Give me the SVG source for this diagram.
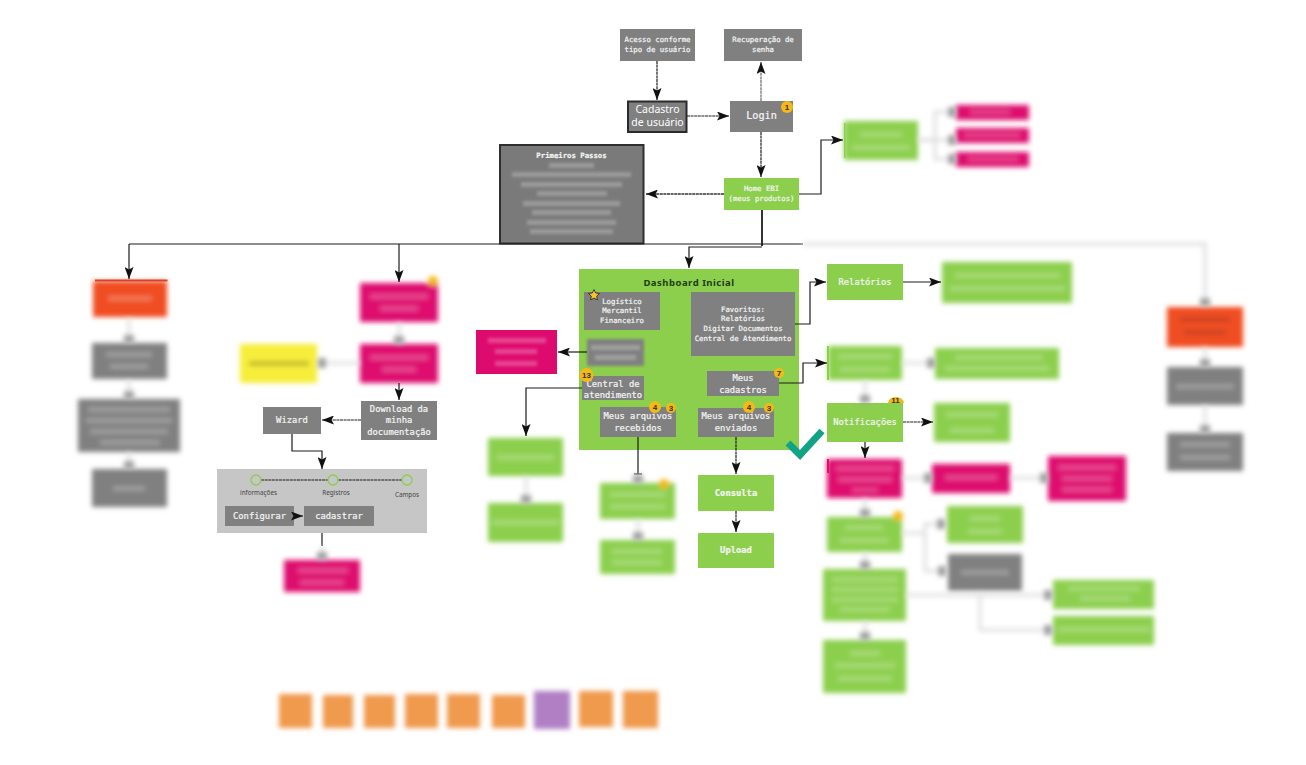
<svg xmlns="http://www.w3.org/2000/svg" width="1306" height="765" viewBox="0 0 1306 765">
<style>
.bg{fill:#fff}
.gr{fill:#808080}.gn{fill:#8ccf4d}.pk{fill:#de0b6e}.rd{fill:#f04e23}.ye{fill:#f7ee3b}.or{fill:#f09a4d}.pu{fill:#b07fc4}.pn{fill:#c6c6c6}
.tb{fill:#fff;opacity:.24}
.m{font-family:"DejaVu Sans Mono","Liberation Mono",monospace;fill:#f4f4f4;text-anchor:middle;stroke:#f4f4f4;stroke-width:.22}
.s7{font-size:7.3px}.s9{font-size:8.8px}.s10{font-size:10.2px}
.n{font-family:"Noto Sans","Open Sans",sans-serif;text-anchor:middle}
.lb{font-size:6.3px;fill:#444}
.bd{fill:#f4b916}
.bt{font-family:"Liberation Sans",sans-serif;font-weight:700;font-size:8px;fill:#333;text-anchor:middle}
.c{fill:none;stroke:#1c1c1c;stroke-width:1.2}
.d{stroke-dasharray:3 .6}
.a{marker-end:url(#ah)}
.fc{fill:none;stroke:#dedede;stroke-width:3;marker-end:url(#ga)}
.bl{filter:url(#b)}
.bs{filter:url(#bs)}
</style>
<defs>
<filter id="b" filterUnits="userSpaceOnUse" x="0" y="0" width="1306" height="765"><feGaussianBlur stdDeviation="2.5"/></filter>
<filter id="bs" filterUnits="userSpaceOnUse" x="0" y="0" width="1306" height="765"><feGaussianBlur stdDeviation="1.6"/></filter>
<marker id="ah" markerUnits="userSpaceOnUse" markerWidth="13" markerHeight="9" refX="12" refY="4.500" orient="auto"><path d="M0,0 L12,4.500 L0,9 L2.500,4.500z" fill="#111"/></marker>
<marker id="ga" markerUnits="userSpaceOnUse" markerWidth="10" markerHeight="12" refX="8" refY="6" orient="auto"><rect x="0" y="1" width="8" height="10" fill="#a0a0a0"/></marker>
</defs>
<rect class="bg" width="1306" height="765"/>

<g id="n-acesso"><rect class="gr" x="620" y="29" width="75" height="32"/><text class="m s7" x="657.500" y="42">Acesso conforme</text><text class="m s7" x="657.500" y="52">tipo de usuário</text></g>
<g id="n-recuperacao"><rect class="gr" x="724" y="29" width="78" height="32"/><text class="m s7" x="763" y="42">Recuperação de</text><text class="m s7" x="763" y="52">senha</text></g>
<g id="n-cadastro"><rect class="gr" x="628" y="101.500" width="58.500" height="30.500" stroke="#2b2b2b" stroke-width="2"/><text class="n" x="657.500" y="112.500" font-size="10.500" fill="#fff">Cadastro</text><text class="n" x="657.500" y="126" font-size="10.500" fill="#fff">de usuário</text></g>
<g id="n-login"><rect class="gr" x="730" y="101" width="63" height="31"/><text class="m s10" x="761.500" y="119">Login</text><circle class="bd" cx="787" cy="107" r="6"/><text class="bt" x="787" y="110">1</text></g>
<g id="n-primeiros"><rect x="500" y="145" width="143.500" height="98.500" fill="#7a7a7a" stroke="#2f2f2f" stroke-width="2"/><text class="m s7" x="571.500" y="158" font-weight="700">Primeiros Passos</text>
<g class="bs"><rect class="tb" x="549" y="163" width="45" height="5"/><rect class="tb" x="512" y="172" width="119" height="5"/><rect class="tb" x="521" y="182" width="101" height="5"/><rect class="tb" x="537" y="191" width="70" height="5"/><rect class="tb" x="523" y="201" width="97" height="5"/><rect class="tb" x="532" y="210" width="79" height="5"/><rect class="tb" x="527" y="220" width="89" height="5"/><rect class="tb" x="530" y="229" width="83" height="5"/></g></g>
<g id="n-home"><rect class="gn" x="724" y="178" width="75" height="32"/><text class="m s7" x="761.500" y="191">Home EBI</text><text class="m s7" x="761.500" y="201">(meus produtos)</text></g>

<g id="n-conta"><rect class="gn" x="844" y="123" width="1.500" height="35"/><g class="bl"><rect class="gn" x="844" y="121" width="74" height="39"/><rect class="tb" x="860" y="132" width="42" height="5"/><rect class="tb" x="852" y="145" width="58" height="5"/></g></g>
<g id="n-rosa1" class="bl"><rect class="pk" x="956" y="105" width="73" height="15"/><rect class="tb" x="970" y="110" width="40" height="4"/></g>
<g id="n-rosa2" class="bl"><rect class="pk" x="956" y="128" width="73" height="15"/><rect class="tb" x="964" y="133" width="56" height="4"/></g>
<g id="n-rosa3" class="bl"><rect class="pk" x="956" y="152" width="73" height="15"/><rect class="tb" x="968" y="157" width="50" height="4"/></g>

<g id="n-dashboard"><rect class="gn" x="579" y="269" width="220" height="181"/><text class="n" x="689" y="286" font-size="9.500" font-weight="700" letter-spacing=".5" fill="#1f3d10">Dashboard Inicial</text></g>
<g id="n-logistico"><rect class="gr" x="584" y="292" width="76" height="38"/><text class="m s7" x="622" y="304">Logístico</text><text class="m s7" x="622" y="313">Mercantil</text><text class="m s7" x="622" y="323">Financeiro</text><path d="M594,289.500 L595.700,293 L599.500,293.500 L596.700,296.100 L597.400,299.900 L594,298.100 L590.600,299.900 L591.300,296.100 L588.500,293.500 L592.300,293z" fill="#f6c52c" stroke="#222" stroke-width=".8"/></g>
<g id="n-favoritos"><rect class="gr" x="691" y="292" width="104" height="64"/><text class="m s7" x="743" y="312">Favoritos:</text><text class="m s7" x="743" y="321">Relatórios</text><text class="m s7" x="743" y="331">Digitar Documentos</text><text class="m s7" x="743" y="341">Central de Atendimento</text></g>
<g id="n-acionar"><rect class="pk" x="476" y="330" width="81" height="44"/><g class="bs"><rect class="tb" x="488" y="338" width="58" height="5"/><rect class="tb" x="495" y="349" width="42" height="5"/><rect class="tb" x="495" y="361" width="42" height="5"/></g></g>
<g id="n-emissao" class="bs"><rect class="gr" x="587" y="339" width="57" height="27"/><rect class="tb" x="591" y="345" width="49" height="5"/><rect class="tb" x="595" y="355" width="41" height="5"/></g>
<g id="n-central"><rect class="gr" x="582" y="376" width="62" height="24"/><text class="m s9" x="613" y="386.500">Central de</text><text class="m s9" x="613" y="397.500">atendimento</text><circle class="bd" cx="586.500" cy="375" r="7"/><text class="bt" x="586.500" y="378">13</text></g>
<g id="n-cadastros"><rect class="gr" x="707" y="371" width="72" height="25"/><text class="m s9" x="743" y="381">Meus</text><text class="m s9" x="743" y="393">cadastros</text><circle class="bd" cx="779" cy="373" r="5"/><text class="bt" x="779" y="376">7</text></g>
<g id="n-recebidos"><rect class="gr" x="600" y="407" width="76" height="30"/><text class="m s9" x="638" y="419">Meus arquivos</text><text class="m s9" x="638" y="430.500">recebidos</text><circle class="bd" cx="655" cy="407" r="6"/><text class="bt" x="655" y="410">4</text><circle class="bd" cx="671" cy="408" r="5"/><text class="bt" x="671" y="411">3</text></g>
<g id="n-enviados"><rect class="gr" x="698" y="408" width="76" height="29"/><text class="m s9" x="736" y="419">Meus arquivos</text><text class="m s9" x="736" y="431">enviados</text><circle class="bd" cx="749" cy="407" r="6"/><text class="bt" x="749" y="410">4</text><circle class="bd" cx="769" cy="408" r="5"/><text class="bt" x="769" y="411">3</text></g>
<path id="check" d="M788,443 L800,455 L822,431" fill="none" stroke="#12a386" stroke-width="7"/>

<g id="n-relatorios"><rect class="gn" x="827" y="264" width="76" height="36"/><text class="m s9" x="865" y="285">Relatórios</text></g>
<g id="n-rel2" class="bl"><rect class="gn" x="942" y="262" width="130" height="41"/><rect class="tb" x="955" y="273" width="105" height="5"/><rect class="tb" x="950" y="286" width="115" height="5"/></g>
<g id="n-cad1"><rect class="gn" x="827" y="346" width="2" height="34"/><g class="bl"><rect class="gn" x="828" y="346" width="74" height="34"/><rect class="tb" x="838" y="354" width="54" height="5"/><rect class="tb" x="840" y="367" width="50" height="5"/></g></g>
<g id="n-cad2" class="bl"><rect class="gn" x="935" y="348" width="124" height="31"/><rect class="tb" x="955" y="355" width="88" height="5"/><rect class="tb" x="945" y="366" width="104" height="5"/></g>
<g id="n-notificacoes"><rect class="gn" x="827" y="403" width="76" height="39"/><text class="m s9" x="865" y="425">Notificações</text><path class="bd" d="M888,403 a8,6 0 0 1 16,0z"/><text class="bt" x="895.500" y="403" font-size="7">11</text></g>
<g id="n-not2" class="bl"><rect class="gn" x="934" y="403" width="76" height="39"/><rect class="tb" x="946" y="412" width="52" height="5"/><rect class="tb" x="950" y="428" width="44" height="5"/></g>
<g id="n-rosa4"><rect class="pk" x="827" y="459" width="2" height="14"/><g class="bl"><rect class="pk" x="827" y="459" width="75" height="39"/><rect class="tb" x="836" y="466" width="58" height="5"/><rect class="tb" x="838" y="477" width="54" height="5"/><rect class="tb" x="852" y="488" width="26" height="4"/></g></g>
<g id="n-rosa5" class="bl"><rect class="pk" x="932" y="464" width="78" height="29"/><rect class="tb" x="945" y="475" width="52" height="5"/></g>
<g id="n-rosa6" class="bl"><rect class="pk" x="1048" y="456" width="78" height="45"/><rect class="tb" x="1058" y="465" width="58" height="5"/><rect class="tb" x="1062" y="476" width="50" height="5"/><rect class="tb" x="1062" y="487" width="50" height="5"/></g>
<g id="n-gn1" class="bl"><rect class="gn" x="827" y="517" width="75" height="35"/><rect class="tb" x="845" y="525" width="38" height="5"/><rect class="tb" x="840" y="538" width="48" height="5"/><circle class="bd" cx="898" cy="516" r="5"/></g>
<g id="n-gn2" class="bl"><rect class="gn" x="823" y="569" width="83" height="52"/><rect class="tb" x="832" y="577" width="66" height="5"/><rect class="tb" x="832" y="587" width="66" height="5"/><rect class="tb" x="832" y="597" width="66" height="5"/><rect class="tb" x="840" y="607" width="50" height="5"/></g>
<g id="n-gn3" class="bl"><rect class="gn" x="823" y="640" width="83" height="53"/><rect class="tb" x="850" y="651" width="30" height="5"/><rect class="tb" x="835" y="663" width="60" height="5"/><rect class="tb" x="838" y="676" width="54" height="5"/></g>
<g id="n-gn4" class="bl"><rect class="gn" x="947" y="506" width="76" height="37"/><rect class="tb" x="970" y="516" width="30" height="5"/><rect class="tb" x="968" y="529" width="34" height="5"/></g>
<g id="n-gr5" class="bl"><rect class="gr" x="948" y="554" width="74" height="37"/><rect class="tb" x="961" y="570" width="48" height="5"/></g>
<g id="n-gn5" class="bl"><rect class="gn" x="1053" y="580" width="101" height="29"/><rect class="tb" x="1068" y="586" width="72" height="5"/><rect class="tb" x="1080" y="596" width="50" height="5"/></g>
<g id="n-gn6" class="bl"><rect class="gn" x="1053" y="616" width="101" height="29"/><rect class="tb" x="1058" y="627" width="92" height="5"/></g>

<g id="n-comunica" class="bl"><rect class="gn" x="488" y="438" width="75" height="38"/><rect class="tb" x="497" y="455" width="57" height="5"/></g>
<g id="n-comunica2" class="bl"><rect class="gn" x="488" y="503" width="75" height="39"/><rect class="tb" x="492" y="520" width="67" height="5"/></g>
<g id="n-rec1" class="bl"><rect class="gn" x="600" y="483" width="75" height="36"/><rect class="tb" x="610" y="492" width="55" height="5"/><rect class="tb" x="610" y="504" width="55" height="5"/><circle class="bd" cx="664" cy="484" r="5"/></g>
<g id="n-rec2" class="bl"><rect class="gn" x="600" y="540" width="75" height="34"/><rect class="tb" x="612" y="549" width="50" height="5"/><rect class="tb" x="612" y="560" width="50" height="5"/></g>
<g id="n-consulta"><rect class="gn" x="698" y="475" width="76" height="36"/><text class="m s9" x="736" y="496" font-weight="700">Consulta</text></g>
<g id="n-upload"><rect class="gn" x="698" y="533" width="76" height="35"/><text class="m s9" x="736" y="553" font-weight="700">Upload</text></g>

<g id="n-vermelho"><g class="bl"><rect class="rd" x="93" y="281" width="74" height="36"/><rect class="tb" x="108" y="296" width="44" height="5"/></g><rect x="95" y="279.500" width="72.500" height="2" fill="#d9432a"/></g>
<g id="n-cinza1" class="bl"><rect class="gr" x="92" y="343" width="75" height="36"/><rect class="tb" x="106" y="352" width="46" height="5"/><rect class="tb" x="110" y="364" width="38" height="5"/></g>
<g id="n-cinza2" class="bl"><rect class="gr" x="78" y="399" width="102" height="53"/><rect class="tb" x="88" y="407" width="82" height="5"/><rect class="tb" x="86" y="418" width="86" height="5"/><rect class="tb" x="90" y="429" width="78" height="5"/><rect class="tb" x="100" y="440" width="60" height="5"/></g>
<g id="n-cinza3" class="bl"><rect class="gr" x="92" y="469" width="75" height="38"/><rect class="tb" x="113" y="486" width="32" height="5"/></g>

<g id="n-rosa-a" class="bl"><rect class="pk" x="360" y="283" width="78" height="39"/><rect class="tb" x="370" y="294" width="58" height="5"/><rect class="tb" x="380" y="306" width="38" height="5"/><circle class="bd" cx="433" cy="281" r="5"/></g>
<g id="n-rosa-b" class="bl"><rect class="pk" x="360" y="344" width="78" height="39"/><rect class="tb" x="370" y="355" width="58" height="5"/><rect class="tb" x="382" y="367" width="34" height="5"/></g>
<g id="n-amarelo" class="bl"><rect class="ye" x="240" y="344" width="77" height="39"/><rect x="249" y="361" width="60" height="5" fill="#8d8a2a" opacity=".5"/></g>
<g id="n-download"><rect class="gr" x="361" y="401" width="76" height="39"/><text class="m s9" x="399" y="412">Download da</text><text class="m s9" x="399" y="423">minha</text><text class="m s9" x="399" y="435">documentação</text></g>
<g id="n-wizard"><rect class="gr" x="263" y="407" width="58" height="27"/><text class="m s9" x="292" y="423">Wizard</text></g>
<g id="n-painel"><rect class="pn" x="217" y="469" width="210" height="64"/>
<text class="n lb" x="258.500" y="495">informações</text><text class="n lb" x="336" y="495">Registros</text><text class="n lb" x="407" y="497">Campos</text></g>
<g id="n-configurar"><rect class="gr" x="225" y="506" width="69" height="20"/><text class="m s9" x="259.500" y="519">Configurar</text></g>
<g id="n-cadastrar"><rect class="gr" x="304" y="506" width="70" height="20"/><text class="m s9" x="339" y="519">cadastrar</text></g>
<g id="n-rosa-c" class="bl"><rect class="pk" x="284" y="560" width="76" height="32"/><rect class="tb" x="298" y="568" width="50" height="5"/><rect class="tb" x="300" y="580" width="44" height="5"/></g>

<g id="n-vermelho2" class="bl"><rect class="rd" x="1167" y="307" width="76" height="40"/><rect x="1180" y="317" width="50" height="5" fill="#b53d20" opacity=".6"/><rect x="1184" y="330" width="42" height="5" fill="#b53d20" opacity=".6"/></g>
<g id="n-cinza4" class="bl"><rect class="gr" x="1167" y="367" width="76" height="38"/><rect class="tb" x="1176" y="384" width="58" height="5"/></g>
<g id="n-cinza5" class="bl"><rect class="gr" x="1167" y="433" width="76" height="38"/><rect class="tb" x="1180" y="442" width="50" height="5"/><rect class="tb" x="1180" y="455" width="50" height="5"/></g>

<g id="n-legenda1" class="bl"><rect class="or" x="279" y="694" width="33" height="34"/></g>
<g id="n-legenda2" class="bl"><rect class="or" x="323" y="695" width="30" height="33"/></g>
<g id="n-legenda3" class="bl"><rect class="or" x="364" y="695" width="31" height="33"/></g>
<g id="n-legenda4" class="bl"><rect class="or" x="405" y="694" width="33" height="34"/></g>
<g id="n-legenda5" class="bl"><rect class="or" x="447" y="694" width="33" height="34"/></g>
<g id="n-legenda6" class="bl"><rect class="or" x="492" y="695" width="33" height="33"/></g>
<g id="n-legenda7" class="bl"><rect class="pu" x="534" y="691" width="36" height="38"/></g>
<g id="n-legenda8" class="bl"><rect class="or" x="579" y="691" width="34" height="36"/></g>
<g id="n-legenda9" class="bl"><rect class="or" x="623" y="691" width="35" height="37"/></g>

<g id="connectors">
<path class="c" d="M129,244 H803"/>
<path class="c a" d="M129,244 V279"/>
<path class="c a" d="M399,244 V282"/>
<path class="c" style="stroke-width:1.800" d="M762,210 V246"/>
<path class="c a" d="M762,247 H689 V268"/>
<path class="c d a" d="M657,61 V100"/>
<path class="c d a" d="M687,116 H729"/>
<path class="c d a" style="stroke:#666" d="M761,101 V62"/>
<path class="c d a" d="M761,132 V177"/>
<path class="c d a" style="stroke-width:1.600;stroke:#333" d="M724,194 H646"/>
<path class="c a" d="M799,194 H821 V140 H843"/>
<path class="c a" d="M795,324 H810 V282 H826"/>
<path class="c a" d="M903,282 H941"/>
<path class="c a" d="M779,383 H803 V363 H827"/>
<path class="c d a" d="M903,422 H933"/>
<path class="c a" d="M865,442 V458"/>
<path class="c a" d="M587,352 H558"/>
<path class="c a" d="M582,388 H526 V436"/>
<path class="c" d="M638,437 V474 M634,474 H642"/>
<path class="c d a" d="M736,437 V474"/>
<path class="c d a" d="M736,511 V532"/>
<path class="c a" d="M399,383 V400"/>
<path class="c d a" d="M361,420 H322"/>
<path class="c a" d="M292,434 V451 H322 V469"/>
<path class="c" d="M322,533 V546"/>
<path class="c d" d="M261,480 H328 M338,480 H402"/>
<path class="c a" style="stroke-width:1" d="M294,516 H303"/>
<g id="c-desfocados" class="bl">
<path class="fc" d="M803,244 H1205 V306" style="stroke-width:4;stroke:#e4e4e4"/>
<path class="fc" d="M129,318 V343"/><path class="fc" d="M129,380 V399"/><path class="fc" d="M129,452 V469"/>
<path class="fc" d="M1205,347 V367"/><path class="fc" d="M1205,405 V433"/>
<path class="fc" d="M399,322 V344"/>
<path class="fc" d="M360,363 H318"/>
<path class="fc" d="M322,546 V560"/>
<path class="fc" d="M526,476 V503"/>
<path class="fc" d="M638,474 V483"/><path class="fc" d="M638,519 V540"/>
<path class="fc" d="M902,363 H935"/>
<path class="fc" d="M865,380 V403"/>
<path class="fc" d="M902,478 H932"/><path class="fc" d="M1010,478 H1048"/>
<path class="fc" d="M865,498 V517"/><path class="fc" d="M865,552 V569"/><path class="fc" d="M865,621 V640"/>
<path class="fc" d="M902,533 H925 V524 H945"/><path class="fc" d="M925,533 V571 H946"/>
<path class="fc" d="M906,595 H1052"/><path class="fc" d="M980,595 V630 H1052"/>
<path class="fc" d="M918,140 H935 V112 H956"/><path class="fc" d="M918,140 H956"/><path class="fc" d="M935,140 V159 H956"/>
</g>
</g>

<g id="marcos">
<circle cx="256" cy="480" r="5" fill="#c6c6c6" stroke="#8ccf4d" stroke-width="1.300"/><circle cx="333" cy="480" r="5" fill="#c6c6c6" stroke="#8ccf4d" stroke-width="1.300"/><circle cx="407" cy="480" r="5" fill="#c6c6c6" stroke="#8ccf4d" stroke-width="1.300"/>
</g>
</svg>
